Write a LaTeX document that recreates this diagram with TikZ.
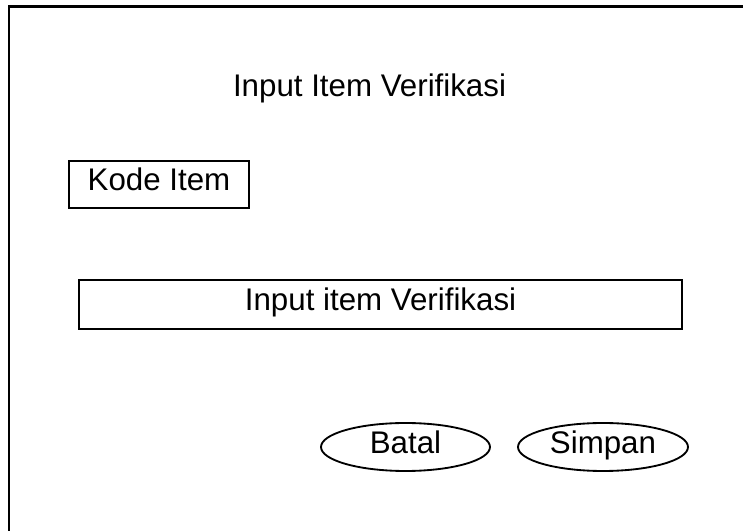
\documentclass[tikz,border=0pt]{standalone}
\usepackage{fontspec}
\setmainfont{Liberation Sans}
\usepackage{tikz}
\usetikzlibrary{shapes.geometric}

\begin{document}
\begin{tikzpicture}[font=\fontsize{17.8}{21}\selectfont,
  field/.style={draw, line width=1.05pt, inner sep=0pt, text height=0.72em, text depth=0pt},
  tombol/.style={draw, ellipse, line width=1.05pt, inner sep=0pt, minimum height=0.96cm, text height=0.72em, text depth=0pt}]
\useasboundingbox (0,0) rectangle (14.86,10.62);
\draw[line width=1.15pt] (0.18,0) -- (0.18,10.49) -- (14.86,10.49);

\node[anchor=base] (judul) at (7.39, 8.68) {Input Item Verifikasi};

\node[field, minimum width=3.6cm, minimum height=0.94cm] (kode) at (3.18, 6.93) {Kode Item};
\node[field, minimum width=12.06cm, minimum height=0.98cm] (input) at (7.61, 4.53) {Input item Verifikasi};

\node[tombol, minimum width=3.38cm] (batal) at (8.11, 1.68) {Batal};
\node[tombol, minimum width=3.4cm] (simpan) at (12.06, 1.68) {Simpan};
\end{tikzpicture}
\end{document}
